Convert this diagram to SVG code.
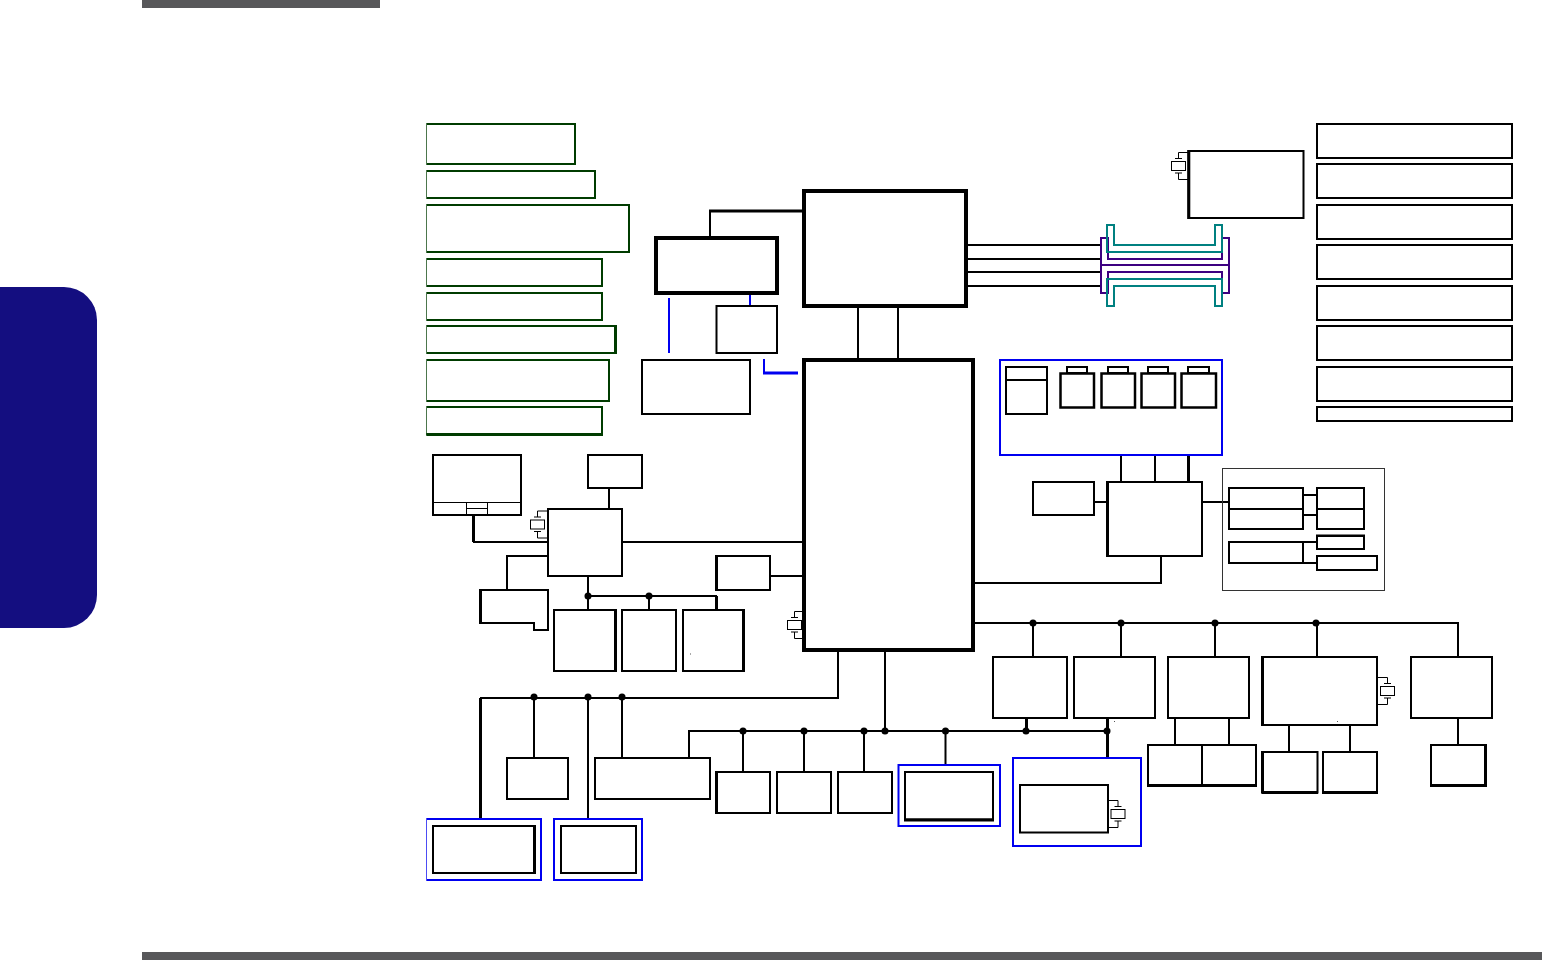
<svg xmlns="http://www.w3.org/2000/svg" width="1542" height="960" viewBox="0 0 1542 960">
<style>
rect,path.o{fill:none}
.k{fill:#fff;stroke:#000;stroke-width:2}
.k3{fill:#fff;stroke:#000;stroke-width:3}
.k4{fill:#fff;stroke:#000;stroke-width:4}
.g{fill:#fff;stroke:#003c00;stroke-width:2}
.b{fill:none;stroke:#0000f0;stroke-width:2}
.p{fill:none;stroke:#3c0080;stroke-width:2}
.t{fill:none;stroke:#008080;stroke-width:2}
.th{fill:none;stroke:#000;stroke-width:1}
.bar{fill:#58585a;stroke:none}
#connectors path{fill:none;stroke:#000;stroke-width:2}
#connectors path.w{stroke-width:3}
#connectors path.bl{stroke:#0000f0;stroke-width:2}
#connectors path.bw{stroke:#0000f0;stroke-width:3}
#connectors circle{fill:#000;stroke:none}
.x{fill:none;stroke:#000;stroke-width:1}
</style>
<defs>
<clipPath id="c"><rect x="426.3" y="0" width="1116" height="960"/></clipPath>
<g id="xl"><path class="x" d="M10,-13.5H0V-7.5M-3.5,-7.5H3.5M-3.5,7H3.5M0,7V13.5H10"/><rect class="x" x="-7" y="-4.5" width="14" height="9"/></g>
<g id="xr"><path class="x" d="M-10,-13.5H0V-7.5M-3.5,-7.5H3.5M-3.5,7H3.5M0,7V13.5H-10"/><rect class="x" x="-7" y="-4.5" width="14" height="9"/></g>
</defs>
<rect x="0" y="0" width="1542" height="960" style="fill:#fff"/>
<rect class="bar" x="142" y="0" width="238" height="8"/>
<rect class="bar" x="142" y="952" width="1400" height="8"/>
<path d="M0,287H64A33,33 0 0 1 97,320V595A33,33 0 0 1 64,628H0Z" fill="#140e80"/>

<g id="connectors">
<path d="M966,245H1101M966,259H1101M966,272H1101M966,286H1101"/>
<path d="M858,306V360M898,306V360"/>
<path d="M710,238V211"/><path class="w" d="M709,211H804"/>
<path class="bl" d="M669,298V353M750,293V306M764,359V374"/><path class="bw" d="M763,373H798"/>
<path d="M609,488V509M622,542H804M473,542H548M548,556H507V590M770,576H804M588,576V610M588,596H717M649,596V610"/>
<path class="w" d="M473.500,515V542M716.500,596V610"/>
<path d="M1121,455V482M1155,455V482M1094,502H1107M1202,502H1229M1161,556V583H973"/><path class="w" d="M1188.500,455V482"/>
<path d="M1303,495H1317M1303,515H1317M1303,542H1317M1303,563H1317"/>
<path d="M973,623H1458V657M1033,623V657M1121,623V657M1215,623V657M1317,623V657"/>
<path d="M838,650V698H480M534,698V758M588,698V819M622,698V758"/>
<path class="w" d="M480.500,698V819"/>
<path d="M885,650V731M689,758V731H1107M743,731V772M804,731V772M864,731V772M945.500,731V765"/>
<path class="w" d="M1026.500,718V731M1107.500,718V758"/>
<path d="M1175,718V745M1229,718V745M1289,725V752M1350,725V752M1458,718V745"/>
<circle cx="588" cy="596" r="3.500"/><circle cx="649" cy="596" r="3.500"/>
<circle cx="1033" cy="623" r="3.500"/><circle cx="1121" cy="623" r="3.500"/><circle cx="1215" cy="623" r="3.500"/><circle cx="1316" cy="623" r="3.500"/>
<circle cx="534" cy="697" r="3.500"/><circle cx="588" cy="697" r="3.500"/><circle cx="622" cy="697" r="3.500"/>
<circle cx="743" cy="731" r="3.500"/><circle cx="804" cy="731" r="3.500"/><circle cx="864" cy="731" r="3.500"/><circle cx="885" cy="731" r="3.500"/><circle cx="945.500" cy="731" r="3.500"/><circle cx="1026" cy="731" r="3.500"/><circle cx="1107" cy="731" r="3.500"/>
</g>

<g clip-path="url(#c)">
<g id="g1"><rect class="g" x="426" y="124" width="149" height="40"/></g>
<g id="g2"><rect class="g" x="426" y="171" width="169" height="27"/></g>
<g id="g3"><rect class="g" x="426" y="205" width="203" height="47"/></g>
<g id="g4"><rect class="g" x="426" y="259" width="176" height="27"/></g>
<g id="g5"><rect class="g" x="426" y="293" width="176" height="27"/></g>
<g id="g6"><rect class="g" x="426" y="326" width="189.500" height="27"/><path d="M615.500,325V354" stroke="#003c00" stroke-width="3" fill="none"/></g>
<g id="g7"><rect class="g" x="426" y="360" width="183" height="41"/></g>
<g id="g8"><rect class="g" x="426" y="407" width="176" height="27"/><path d="M426,434.500H603" stroke="#003c00" stroke-width="3" fill="none"/></g>
<g id="blue1"><rect class="b" x="426" y="819" width="115" height="61"/></g>
</g>

<g id="north"><rect class="k4" x="804" y="191" width="162" height="115"/></g>
<g id="gpu"><rect class="k4" x="656" y="238" width="121" height="55"/></g>
<g id="mem"><rect class="k" x="716.500" y="306" width="60.500" height="47"/></g>
<g id="lvds"><rect class="k" x="642" y="360" width="108" height="54"/></g>
<g id="south"><rect class="k4" x="804" y="360" width="169" height="290"/></g>
<g id="clock"><rect class="k" x="1188.500" y="151" width="115" height="67"/><path d="M1188.800,150V219" stroke="#000" stroke-width="3" fill="none"/><use href="#xl" x="1178.500" y="166"/></g>

<g id="so-dimm">
<path class="p" d="M1101,238H1108V259H1222V238H1229V265H1101Z"/>
<path class="p" d="M1101,293H1108V272H1222V293H1229V265H1101Z"/>
<path class="t" d="M1107,225H1114V245H1215V225H1222V252H1107Z"/>
<path class="t" d="M1107,306H1114V286H1215V306H1222V279H1107Z"/>
</g>

<g id="r1"><rect class="k" x="1317" y="124" width="195" height="34"/></g>
<g id="r2"><rect class="k" x="1317" y="164" width="195" height="34"/></g>
<g id="r3"><rect class="k" x="1317" y="205" width="195" height="34"/></g>
<g id="r4"><rect class="k" x="1317" y="245" width="195" height="34"/></g>
<g id="r5"><rect class="k" x="1317" y="286" width="195" height="34"/></g>
<g id="r6"><rect class="k" x="1317" y="326" width="195" height="34"/></g>
<g id="r7"><rect class="k" x="1317" y="367" width="195" height="34"/></g>
<g id="r8"><rect class="k" x="1317" y="407" width="195" height="14"/></g>

<g id="usb-group"><rect class="b" x="1000" y="360" width="222" height="95"/>
<rect class="k" x="1006" y="367" width="41" height="47"/><path d="M1006,380H1047" stroke="#000" stroke-width="2"/>
<rect class="k" x="1067" y="367" width="20" height="6"/><rect class="k" x="1060.500" y="373.500" width="33.500" height="34" style="stroke-width:2.500"/>
<rect class="k" x="1108" y="367" width="20" height="6"/><rect class="k" x="1101.500" y="373.500" width="33.500" height="34" style="stroke-width:2.500"/>
<rect class="k" x="1148" y="367" width="20" height="6"/><rect class="k" x="1141.500" y="373.500" width="33.500" height="34" style="stroke-width:2.500"/>
<rect class="k" x="1188" y="367" width="21" height="6"/><rect class="k" x="1181.500" y="373.500" width="34.500" height="34" style="stroke-width:2.500"/>
</g>

<g id="ec-mini"><rect class="k" x="1033" y="482" width="61" height="33"/></g>
<g id="controller"><rect class="k" x="1107.500" y="482" width="94.500" height="74"/><path d="M1107.500,481V557" stroke="#000" stroke-width="3" fill="none"/></g>
<g id="audio-group"><rect x="1222.500" y="468.500" width="162" height="122" style="stroke:#333;stroke-width:1"/>
<rect class="k" x="1229" y="488" width="74" height="21"/><rect class="k" x="1229" y="509" width="74" height="20"/>
<rect class="k" x="1317" y="488" width="47" height="21"/><rect class="k" x="1317" y="509" width="47" height="20"/>
<rect class="k" x="1229" y="542" width="74" height="21"/>
<rect class="k" x="1317" y="536" width="47" height="13"/><path d="M1316,535.500H1365" stroke="#000" stroke-width="2" fill="none"/>
<rect class="k" x="1317" y="556" width="60" height="14"/>
</g>

<g id="panel"><rect class="k" x="433" y="455" width="88" height="60"/><path class="th" d="M433,502.500H521M466.500,502V515M487.500,502V515M466,508.500H488"/></g>
<g id="pwr"><rect class="k" x="588" y="455" width="54" height="33"/></g>
<g id="cr"><rect class="k" x="548" y="509" width="74" height="67"/><use href="#xl" x="537.500" y="524.500"/></g>
<g id="sd"><path class="k" d="M480.500,590H548V630H534V623H480.500Z"/><path d="M480.500,589V624" stroke="#000" stroke-width="3" fill="none"/></g>
<g id="hda"><rect class="k" x="716.500" y="556" width="53.500" height="34"/><path d="M716.500,555V591" stroke="#000" stroke-width="3" fill="none"/></g>
<g id="pc1"><rect class="k" x="554" y="610" width="61.500" height="61"/><path d="M615.500,609V672" stroke="#000" stroke-width="3" fill="none"/></g>
<g id="pc2"><rect class="k" x="622" y="610" width="54" height="61"/></g>
<g id="pc3"><rect class="k" x="683" y="610" width="60.500" height="61"/><path d="M743.500,609V672" stroke="#000" stroke-width="3" fill="none"/><rect x="690" y="653.500" width="1" height="1" style="fill:#555"/></g>
<g id="xt-south"><use href="#xr" x="794.500" y="625" transform="translate(1589,0) scale(-1,1)"/></g>

<g id="n1"><rect class="k" x="993" y="657" width="74" height="61"/></g>
<g id="n2"><rect class="k" x="1074" y="657" width="81" height="61"/><rect x="1114" y="721" width="1" height="1" style="fill:#555"/></g>
<g id="n3"><rect class="k" x="1168" y="657" width="81" height="61"/></g>
<g id="n4"><rect class="k" x="1262.500" y="657" width="114.500" height="68"/><path d="M1262.500,656V726" stroke="#000" stroke-width="3" fill="none"/><use href="#xr" x="1387.500" y="691"/><rect x="1337" y="721" width="1" height="1" style="fill:#555"/></g>
<g id="n5"><rect class="k" x="1411" y="657" width="81" height="61"/></g>
<g id="n6"><rect class="k" x="1148" y="745" width="54" height="40"/><rect class="k" x="1202" y="745" width="54" height="40"/><path d="M1147,785.500H1257" stroke="#000" stroke-width="3" fill="none"/></g>
<g id="n7"><rect class="k" x="1262.500" y="752" width="55" height="40.500"/><path d="M1262.500,751V793.500M1262,792.500H1318" stroke="#000" stroke-width="3" fill="none"/></g>
<g id="n8"><rect class="k" x="1323" y="752" width="54" height="40.500"/><path d="M1322,792.500H1378" stroke="#000" stroke-width="3" fill="none"/></g>
<g id="n9"><rect class="k" x="1431" y="745" width="54.500" height="40"/><path d="M1485.500,744V786.500M1430,785.500H1487" stroke="#000" stroke-width="3" fill="none"/></g>

<g id="bl1"><rect class="k" x="433" y="826" width="101.500" height="47"/><path d="M534.500,825V874" stroke="#000" stroke-width="3" fill="none"/></g>
<g id="bl2"><rect class="b" x="554" y="819" width="88" height="61"/><rect class="k" x="561" y="826" width="75" height="47"/></g>
<g id="m1"><rect class="k" x="507" y="758" width="61" height="41"/></g>
<g id="m2"><rect class="k" x="595" y="758" width="115" height="41"/></g>
<g id="m3"><rect class="k" x="716.500" y="772" width="53.500" height="41"/><path d="M716.500,771V814" stroke="#000" stroke-width="3" fill="none"/></g>
<g id="m4"><rect class="k" x="777" y="772" width="54" height="41"/></g>
<g id="m5"><rect class="k" x="838" y="772" width="54" height="41"/></g>
<g id="m6"><rect class="b" x="898.500" y="765" width="101.500" height="61"/><rect class="k" x="905" y="772" width="88" height="47.500"/><path d="M904,820H994" stroke="#000" stroke-width="3" fill="none"/></g>
<g id="m7"><rect class="b" x="1013" y="758" width="128" height="88"/><rect class="k" x="1020" y="785" width="88" height="47.500"/><use href="#xr" x="1118" y="814"/></g>
</svg>
